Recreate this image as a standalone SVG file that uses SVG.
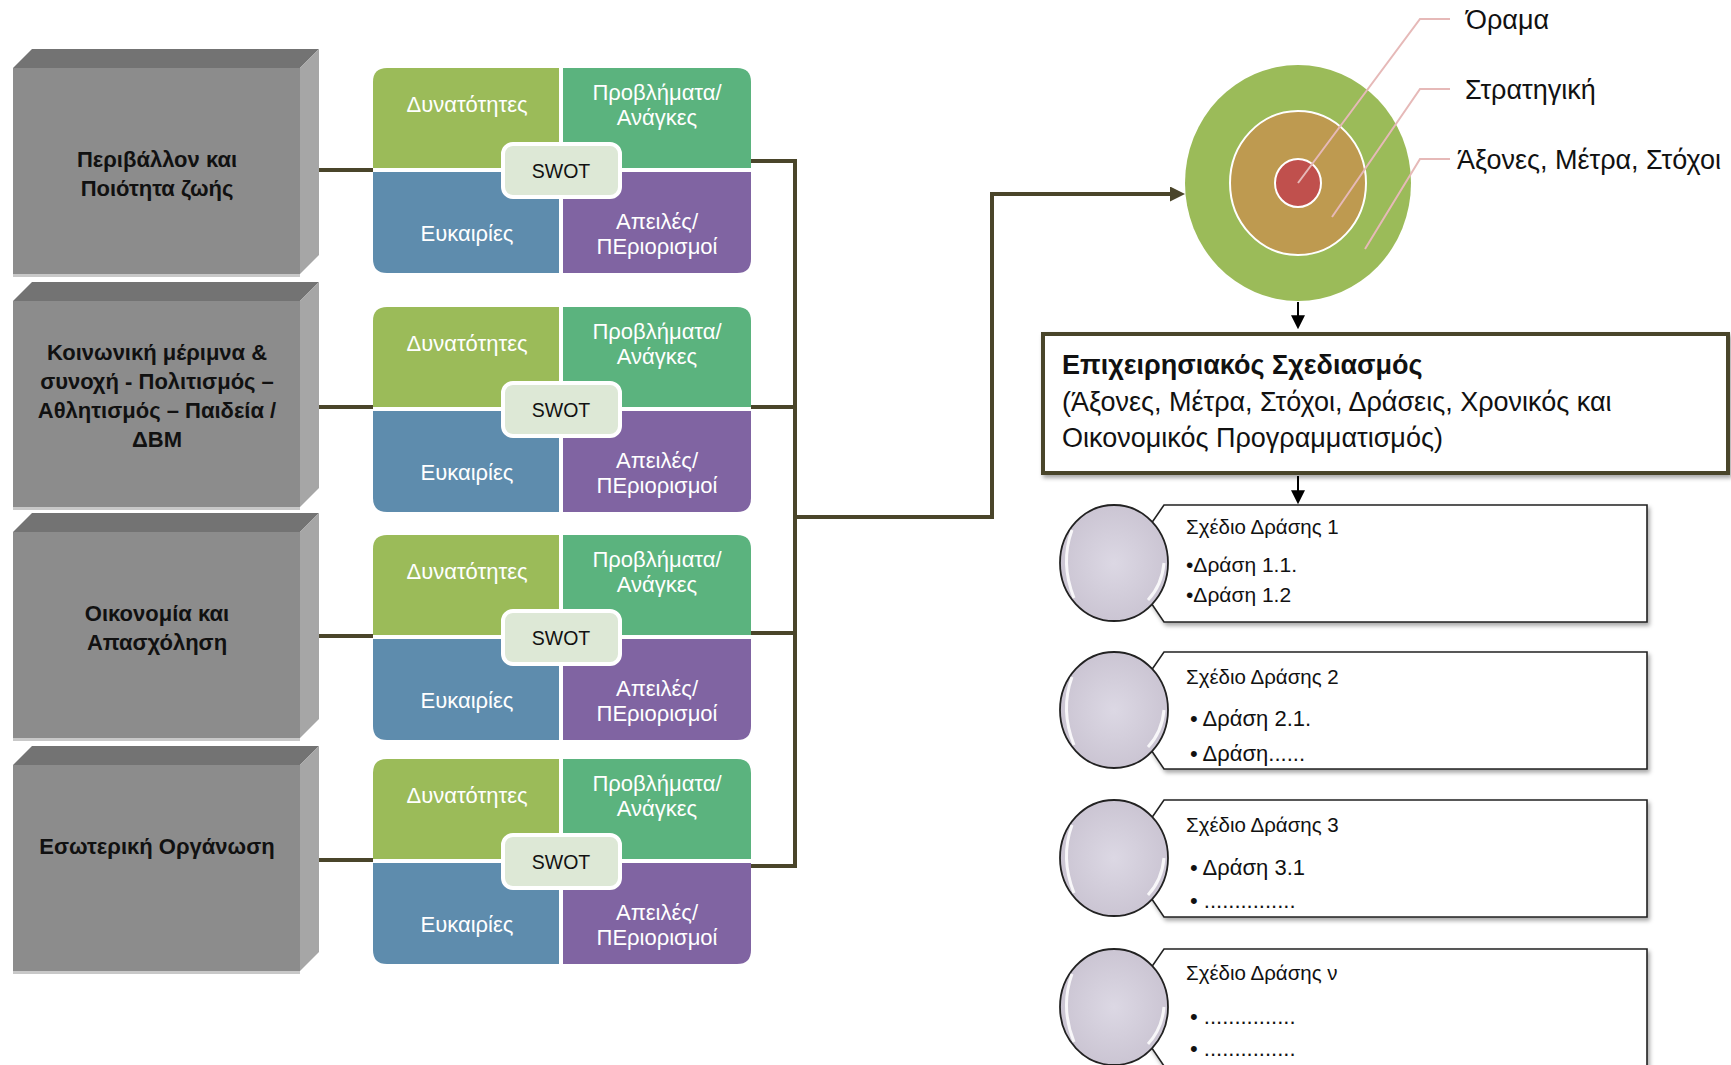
<svg xmlns="http://www.w3.org/2000/svg" width="1731" height="1065" viewBox="0 0 1731 1065">
<style>
text{font-family:"Liberation Sans",Arial,"DejaVu Sans",sans-serif}
.gt{font-weight:bold;font-size:22px;fill:#111;text-anchor:middle}
.gtop{fill:#737373}.gside{fill:#a6a6a6}.gfront{fill:#8c8c8c}.gbot{fill:#c8c8c8}
.ql{font-size:22px;fill:#fff;text-anchor:middle}
.sw{font-size:19.5px;fill:#111;text-anchor:middle}
.qs{fill:#9bbb59}.qw{fill:#5bb37e}.qo{fill:#5e8cad}.qt{fill:#8064a2}
.swb{fill:#dde8d6;stroke:#fff;stroke-width:4}
.conn{stroke:#4a452a;stroke-width:4;fill:none}
.blk{stroke:#000;stroke-width:2;fill:none}
.lead{stroke:#e6b9b8;stroke-width:2;fill:none}
.lbl{font-size:27px;fill:#111}
.ap{fill:#fff;stroke:#222;stroke-width:1.6}
.apc{fill:url(#cg);stroke:#222;stroke-width:1.8}
.hl{stroke:#fff;stroke-width:3;fill:none;opacity:.85}
.tt{font-size:20.5px;fill:#111}
.bt{font-size:21px;fill:#111}
.bt2{font-size:22px;fill:#111}
.op{font-size:27px;fill:#111}
</style>
<defs>
<marker id="ao" viewBox="0 0 10 10" refX="2" refY="5" markerWidth="15" markerHeight="15" markerUnits="userSpaceOnUse" orient="auto"><path d="M0,0 L10,5 L0,10 z" fill="#4a452a"/></marker>
<marker id="ab" viewBox="0 0 10 10" refX="2" refY="5" markerWidth="14" markerHeight="14" markerUnits="userSpaceOnUse" orient="auto"><path d="M0,0 L10,5 L0,10 z" fill="#000"/></marker>
<radialGradient id="cg" cx="0.5" cy="0.5" r="0.5"><stop offset="0" stop-color="#dcd8e4"/><stop offset="1" stop-color="#cbc5d3"/></radialGradient>
<filter id="sh" x="-5%" y="-10%" width="112%" height="130%"><feDropShadow dx="2" dy="3" stdDeviation="2" flood-color="#000" flood-opacity="0.35"/></filter>
<g id="swot">
<path class="qs" d="M373,168 V82 Q373,68 387,68 H559 V168 Z"/>
<path class="qw" d="M563,68 H737 Q751,68 751,82 V168 H563 Z"/>
<path class="qo" d="M373,172 H559 V273 H387 Q373,273 373,259 Z"/>
<path class="qt" d="M563,172 H751 V259 Q751,273 737,273 H563 Z"/>
<rect class="swb" x="503" y="144" width="117" height="53" rx="10"/>
<text class="ql" x="467" y="112">Δυνατότητες</text>
<text class="ql" x="657" y="100">Προβλήματα/</text>
<text class="ql" x="657" y="125">Ανάγκες</text>
<text class="ql" x="467" y="241">Ευκαιρίες</text>
<text class="ql" x="657" y="229">Απειλές/</text>
<text class="ql" x="657" y="254">ΠΕριορισμοί</text>
<text class="sw" x="561" y="178">SWOT</text>
</g>
</defs>
<rect width="1731" height="1065" fill="#fff"/>

<g id="connectors">
<path class="conn" d="M319,170 H373"/>
<path class="conn" d="M319,407 H373"/>
<path class="conn" d="M319,636 H373"/>
<path class="conn" d="M319,860 H373"/>
<path class="conn" d="M751,161 H795 V866 H751"/>
<path class="conn" d="M751,407 H795"/>
<path class="conn" d="M751,633 H795"/>
<path class="conn" d="M795,517 H992 V194 H1173" marker-end="url(#ao)"/>
<path class="blk" d="M1298,302 V318" marker-end="url(#ab)"/>
<path class="blk" d="M1298,476 V493" marker-end="url(#ab)"/>
</g>

<g id="area1">
<polygon class="gtop" points="13,68 32,49 319,49 300,68"/>
<polygon class="gside" points="300,68 319,49 319,255 300,274"/>
<rect class="gfront" x="13" y="68" width="287" height="206"/>
<rect class="gbot" x="13" y="274" width="287" height="3"/>
<text class="gt" x="157" y="167">Περιβάλλον και</text>
<text class="gt" x="157" y="196">Ποιότητα ζωής</text>
</g>
<g id="area2">
<polygon class="gtop" points="13,301 32,282 319,282 300,301"/>
<polygon class="gside" points="300,301 319,282 319,488 300,507"/>
<rect class="gfront" x="13" y="301" width="287" height="206"/>
<rect class="gbot" x="13" y="507" width="287" height="3"/>
<text class="gt" x="157" y="360">Κοινωνική μέριμνα &amp;</text>
<text class="gt" x="157" y="389">συνοχή - Πολιτισμός –</text>
<text class="gt" x="157" y="418">Αθλητισμός – Παιδεία /</text>
<text class="gt" x="157" y="447">ΔΒΜ</text>
</g>
<g id="area3">
<polygon class="gtop" points="13,532 32,513 319,513 300,532"/>
<polygon class="gside" points="300,532 319,513 319,719 300,738"/>
<rect class="gfront" x="13" y="532" width="287" height="206"/>
<rect class="gbot" x="13" y="738" width="287" height="3"/>
<text class="gt" x="157" y="621">Οικονομία και</text>
<text class="gt" x="157" y="650">Απασχόληση</text>
</g>
<g id="area4">
<polygon class="gtop" points="13,765 32,746 319,746 300,765"/>
<polygon class="gside" points="300,765 319,746 319,952 300,971"/>
<rect class="gfront" x="13" y="765" width="287" height="206"/>
<rect class="gbot" x="13" y="971" width="287" height="3"/>
<text class="gt" x="157" y="854">Εσωτερική Οργάνωση</text>
</g>

<g id="swot1"><use href="#swot"/></g>
<g id="swot2"><use href="#swot" transform="translate(0,239)"/></g>
<g id="swot3"><use href="#swot" transform="translate(0,467)"/></g>
<g id="swot4"><use href="#swot" transform="translate(0,691)"/></g>

<g id="target">
<ellipse cx="1298" cy="183" rx="113" ry="118" fill="#9bbb59"/>
<ellipse cx="1298" cy="183" rx="68" ry="72" fill="#be9a50" stroke="#fff" stroke-width="2"/>
<ellipse cx="1298" cy="183" rx="23" ry="24" fill="#c0504d" stroke="#fff" stroke-width="2"/>
<path class="lead" d="M1298,183 L1420,19 H1450"/>
<path class="lead" d="M1332,217 L1420,89 H1450"/>
<path class="lead" d="M1365,249 L1420,159 H1450"/>
<text class="lbl" x="1466" y="29">Όραμα</text>
<text class="lbl" x="1465" y="99">Στρατηγική</text>
<text class="lbl" x="1457" y="169">Άξονες, Μέτρα, Στόχοι</text>
</g>

<g id="operational">
<rect x="1043" y="334" width="685" height="139" fill="#fff" stroke="#4a452a" stroke-width="4" filter="url(#sh)"/>
<text class="op" x="1062" y="374" font-weight="bold">Επιχειρησιακός Σχεδιασμός</text>
<text class="op" x="1062" y="411">(Άξονες, Μέτρα, Στόχοι, Δράσεις, Χρονικός και</text>
<text class="op" x="1062" y="447">Οικονομικός Προγραμματισμός)</text>
</g>

<g id="plan1">
<polygon class="ap" filter="url(#sh)" points="1164,505 1647,505 1647,622 1164,622 1124,563"/>
<ellipse class="apc" cx="1114" cy="563" rx="54" ry="58"/>
<path class="hl" d="M1072,530 Q1060,563 1074,598"/>
<path class="hl" d="M1148,600 Q1162,585 1164,563"/>
<text class="tt" x="1186" y="534">Σχέδιο Δράσης 1</text>
<text class="bt" x="1186" y="572">•Δράση 1.1.</text>
<text class="bt" x="1186" y="602">•Δράση 1.2</text>
</g>
<g id="plan2">
<polygon class="ap" filter="url(#sh)" points="1164,652 1647,652 1647,769 1164,769 1124,710"/>
<ellipse class="apc" cx="1114" cy="710" rx="54" ry="58"/>
<path class="hl" d="M1072,677 Q1060,710 1074,745"/>
<path class="hl" d="M1148,747 Q1162,732 1164,710"/>
<text class="tt" x="1186" y="684">Σχέδιο Δράσης 2</text>
<text class="bt2" x="1190" y="726">• Δράση 2.1.</text>
<text class="bt2" x="1190" y="761">• Δράση......</text>
</g>
<g id="plan3">
<polygon class="ap" filter="url(#sh)" points="1164,800 1647,800 1647,917 1164,917 1124,858"/>
<ellipse class="apc" cx="1114" cy="858" rx="54" ry="58"/>
<path class="hl" d="M1072,825 Q1060,858 1074,893"/>
<path class="hl" d="M1148,895 Q1162,880 1164,858"/>
<text class="tt" x="1186" y="832">Σχέδιο Δράσης 3</text>
<text class="bt2" x="1190" y="875">• Δράση 3.1</text>
<text class="bt2" x="1190" y="908">• ...............</text>
</g>
<g id="plan4">
<polygon class="ap" filter="url(#sh)" points="1164,949 1647,949 1647,1066 1164,1066 1124,1007"/>
<ellipse class="apc" cx="1114" cy="1007" rx="54" ry="58"/>
<path class="hl" d="M1072,974 Q1060,1007 1074,1042"/>
<path class="hl" d="M1148,1044 Q1162,1029 1164,1007"/>
<text class="tt" x="1186" y="980">Σχέδιο Δράσης ν</text>
<text class="bt2" x="1190" y="1024">• ...............</text>
<text class="bt2" x="1190" y="1056">• ...............</text>
</g>
</svg>
